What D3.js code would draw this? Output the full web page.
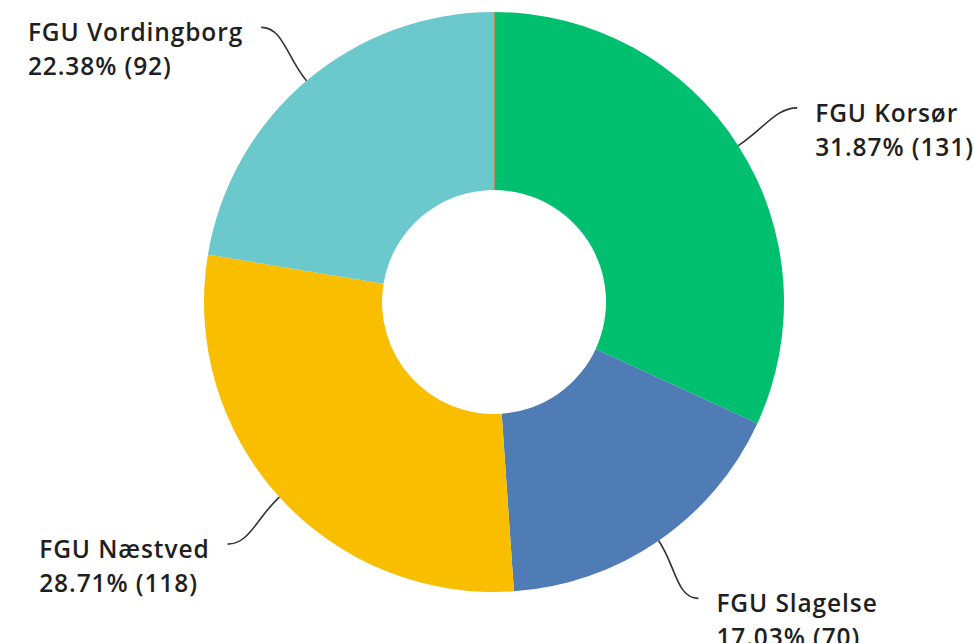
<!DOCTYPE html>
<html>
<head>
<meta charset="utf-8">
<script src="https://cdn.jsdelivr.net/npm/d3@7"></script>
<style>
  html, body { margin: 0; padding: 0; background: #fff; }
  svg { display: block; }
  .lbl { font-family: "Open Sans", sans-serif; font-weight: 600; font-size: 24.5px; letter-spacing: 0.9px; fill: #1f1f1f; }
</style>
</head>
<body>
<div id="chart"></div>
<script>
// data, in drawing order clockwise from 12 o'clock
const categories = ["FGU Korsør", "FGU Slagelse", "FGU Næstved", "FGU Vordingborg", "Øvrige"];
const counts = [131, 70, 118, 92, 0];
const colors = ["#00bf6f", "#507cb6", "#f9be00", "#6bc8cd", "#ff8b4f"];

const width = 974, height = 643;
const cx = 494, cy = 302;
const outerR = 290, innerR = 112;
const labelR = 360;

const total = d3.sum(counts);
const data = categories.map((c, i) => ({ name: c, value: counts[i], color: colors[i] }));

const svg = d3.select("#chart").append("svg")
  .attr("width", width)
  .attr("height", height);

const g = svg.append("g")
  .attr("transform", "translate(" + cx + "," + cy + ")");

const pie = d3.pie().value(d => d.value).sort(null);
const arc = d3.arc().innerRadius(innerR).outerRadius(outerR);
const arcs = pie(data);

g.selectAll("path.slice")
  .data(arcs)
  .enter()
  .append("path")
  .attr("class", "slice")
  .attr("d", arc)
  .attr("fill", d => d.data.color)
  .attr("stroke", d => d.data.value === 0 ? d.data.color : "none")
  .attr("stroke-width", 1.5);

const polar = (r, a) => [r * Math.sin(a), -r * Math.cos(a)];
const fmt = d3.format(".2f");

const labelled = arcs.filter(d => d.data.value > 0);

labelled.forEach(d => {
  const mid = (d.startAngle + d.endAngle) / 2;
  const right = Math.sin(mid) > 0;
  const s = right ? 1 : -1;
  const p0 = polar(outerR, mid);
  const p1 = polar(outerR + 30, mid);
  const p3 = polar(labelR, mid);
  const p2 = [p3[0] - s * 22, p3[1]];

  const path = d3.path();
  path.moveTo(p0[0], p0[1]);
  path.bezierCurveTo(p1[0], p1[1], p2[0], p2[1], p3[0], p3[1]);
  g.append("path")
    .attr("d", path.toString())
    .attr("fill", "none")
    .attr("stroke", "#333")
    .attr("stroke-width", 1.6);

  const t = g.append("text").attr("class", "lbl");
  t.append("tspan").attr("x", 0).attr("y", 0).text(d.data.name);
  t.append("tspan").attr("x", 0).attr("y", 34)
    .text(fmt(d.data.value / total * 100) + "% (" + d.data.value + ")");

  const w = t.node().getBBox().width;
  const x = right ? p3[0] + 18 : p3[0] - 18 - w;
  t.attr("transform", "translate(" + x + "," + (p3[1] + 14) + ")");
});
</script>
</body>
</html>
